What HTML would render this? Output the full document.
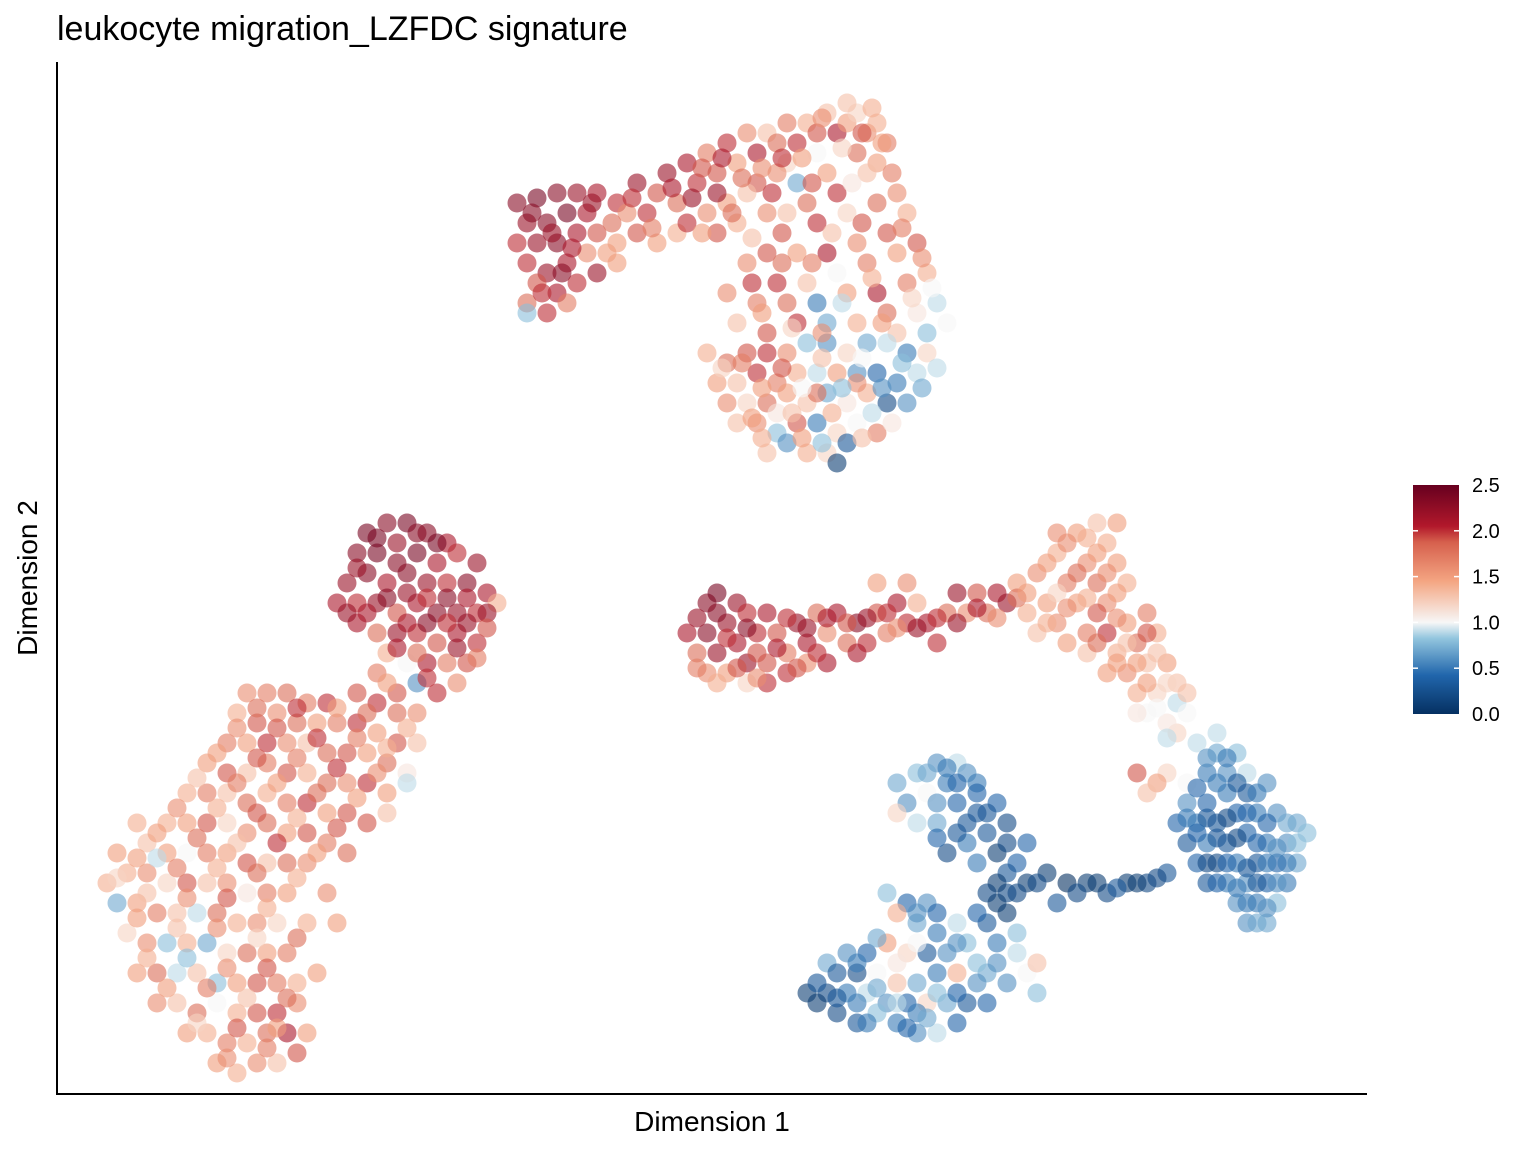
<!DOCTYPE html>
<html><head><meta charset="utf-8"><style>
html,body{margin:0;padding:0;background:#fff;}
svg{display:block;font-family:"Liberation Sans",Arial,sans-serif;}
</style></head><body>
<svg id="chart" width="1536" height="1152" viewBox="0 0 1536 1152" xmlns="http://www.w3.org/2000/svg">
<defs>
<linearGradient id="rdbu" x1="0" y1="1" x2="0" y2="0">
<stop offset="0" stop-color="#053061"/><stop offset="0.17" stop-color="#2166ac"/><stop offset="0.33" stop-color="#92c5de"/><stop offset="0.4" stop-color="#f7f7f7"/><stop offset="0.58" stop-color="#f4a582"/><stop offset="0.75" stop-color="#d6604d"/><stop offset="0.82" stop-color="#b2182b"/><stop offset="1" stop-color="#67001f"/>
</linearGradient>
</defs>
<text x="57" y="40" font-size="34" fill="#000">leukocyte migration_LZFDC signature</text>
<g id="points"></g>
<line x1="57" y1="62" x2="57" y2="1094" stroke="#000" stroke-width="2"/>
<line x1="56" y1="1094" x2="1367" y2="1094" stroke="#000" stroke-width="2"/>
<text x="712" y="1131" font-size="28" text-anchor="middle">Dimension 1</text>
<text x="37" y="578" font-size="28" text-anchor="middle" transform="rotate(-90 37 578)">Dimension 2</text>
<g>
<rect x="1413" y="485" width="46" height="229" fill="url(#rdbu)"/>
<g id="legend-ticks"></g>
</g>
</svg>
<script>
const xDomain=[0,131], yDomain=[0,103.1];
const legendTicks=[0,0.5,1.0,1.5,2.0,2.5];
const legendLabels=["0.0","0.5","1.0","1.5","2.0","2.5"];
const colorDomain=[0,2.5];
const pts=[
[46,89,2.3],[48,89.5,2.4],[50,90,2.3],[52,90,2.2],[47,87,2.2],[49,87,2.3],[51,88,2.4],[53,88,2.1],[46,85,2.0],[48,85,2.2],[50,85,2.3],[52,86,2.1],[54,86,1.9],[47,83,2.0],[49,82,2.2],[51,83,2.1],[53,84,1.6],[55,84,1.5],[48,81,1.9],[50,80,2.1],[52,81,2.0],[47,79,1.8],[49,78,2.0],[51,79,1.7],[54,82,2.2],[56,83,1.5],[47,78,0.8],
[54,90,2.1],[56,89,2.0],[58,91,2.2],[60,90,1.9],[57,88,1.6],[59,88,2.0],[61,92,2.2],[62,89,1.8],[63,93,2.1],[64,91,2.0],[65,94,1.7],[66,92,1.9],[67,95,2.0],[68,93,1.5],[69,96,1.6],[70,94,2.1],[71,96,1.3],[72,95,1.8],[73,97,1.7],[74,95,2.0],[75,97,1.4],[76,96,1.9],[77,98,1.3],[78,96,2.1],[79,97,1.5],[80,98,1.2],[81,96,1.6],[82,97,1.4],[79,99,1.3],[76,94,1.0],[73,93,1.2],[70,91,1.9],[67,89,1.5],[65,88,1.6],[62,86,1.4],[60,85,1.5],[58,86,1.9],[56,85,1.5],[63,87,2.0],[66,90,2.2],[69,90,1.3],[72,92,1.6],[74,91,0.7],[77,92,1.5],[80,94,1.8],[82,93,1.5],[83,95,1.7],[81,92,1.3],[78,90,2.0],[75,89,1.8],[71,88,1.6],[68,87,1.4],[66,86,1.9],[73,88,1.3],[76,87,2.0],[79,88,1.2],[82,89,1.8],[84,90,1.6],[85,88,1.4],[83,86,1.9],[80,85,1.6],[77,84,2.1],[74,84,1.5],[71,84,1.9],[69,83,1.6],[72,81,2.0],[75,81,1.3],[78,82,1.0],[81,83,1.7],[84,84,1.5],[86,85,1.9],[87,82,1.4],[85,81,1.7],[82,80,2.1],[79,80,1.5],[76,79,0.5],[73,79,1.8],[70,79,1.7],[67,80,1.6],[68,77,1.3],[71,76,1.9],[74,77,2.0],[77,77,0.7],[80,77,1.4],[83,78,1.8],[86,78,1.1],[88,79,0.9],[89,77,1.0],[87,76,0.8],[84,76,1.3],
[65,74,1.4],[67,73,1.8],[69,74,1.9],[71,74,2.0],[73,74,1.6],[75,75,0.8],[77,75,0.6],[79,74,1.2],[81,75,0.7],[83,75,0.9],[85,74,0.5],[87,74,1.2],[66,71,1.5],[68,71,1.3],[70,72,2.0],[72,71,1.7],[74,72,1.4],[76,72,0.9],[78,72,1.5],[80,72,0.6],[82,72,0.4],[84,71,0.5],[86,72,0.9],[67,69,1.6],[69,69,1.2],[71,69,1.8],[73,70,1.5],[75,69,1.3],[77,70,0.7],[79,69,1.1],[81,70,1.4],[83,69,0.2],[85,69,0.6],[68,67,1.3],[70,67,1.6],[72,66,0.8],[74,67,1.9],[76,67,0.5],[78,66,1.2],[80,67,1.0],[82,66,1.7],[71,64,1.3],[73,65,0.6],[75,64,1.4],[77,64,1.2],[79,65,0.3],[78,63,0.1],[72,68,1.1],[76,70,1.8],[80,71,1.6],
[31,56,2.4],[33,57,2.3],[35,57,2.4],[37,56,2.3],[39,55,2.1],[30,54,2.3],[32,54,2.4],[34,55,2.2],[36,54,2.4],[38,53,2.1],[40,54,2.0],[42,53,2.2],[29,51,2.2],[31,52,2.3],[33,51,2.1],[35,52,2.3],[37,51,2.2],[39,51,2.0],[41,51,2.3],[43,50,2.1],[28,49,2.1],[30,49,2.0],[32,49,2.2],[34,48,1.9],[36,49,2.1],[38,48,2.3],[40,48,2.2],[42,48,2.0],[44,49,1.4],[30,47,2.1],[32,46,1.8],[34,46,2.2],[36,46,2.0],[38,45,1.9],[40,46,2.1],[42,45,2.0],[33,44,1.4],[35,43,1.0],[37,43,2.1],[39,43,1.7],[41,43,1.9],[36,41,0.6],[32,42,1.7],[38,40,2.0],[34,40,1.9],
[19,40,1.6],[21,40,1.7],[23,40,1.8],[25,39,1.7],[27,39,2.0],[30,40,1.9],[32,39,2.0],[34,38,1.8],[36,38,1.6],[18,38,1.4],[20,37,1.9],[22,38,1.6],[24,37,1.8],[26,37,1.5],[28,37,1.7],[30,37,2.0],[32,36,1.5],[34,35,1.9],[36,35,1.3],[17,35,1.7],[19,35,1.5],[21,35,2.0],[23,35,1.6],[25,35,1.3],[27,34,1.8],[29,34,1.9],[31,34,1.5],[33,33,1.8],[35,32,1.1],[15,33,1.5],[17,32,1.9],[19,32,1.3],[21,33,1.7],[23,32,1.9],[25,32,1.4],[27,31,1.8],[29,31,1.6],[31,31,2.0],[33,30,1.5],[13,30,1.4],[15,30,1.7],[17,30,1.3],[19,29,1.8],[21,30,1.4],[23,29,1.7],[25,29,2.0],[27,28,1.5],[29,28,1.9],[11,27,1.4],[13,27,1.5],[15,27,1.9],[17,27,1.2],[19,26,1.6],[21,27,1.8],[23,26,1.5],[25,26,1.9],[27,25,1.7],[9,25,1.3],[11,24,1.5],[13,24,1.0],[15,24,1.7],[17,24,1.5],[19,23,1.9],[21,23,1.3],[23,23,1.8],[25,23,1.6],[7,22,1.4],[9,22,1.6],[11,21,1.2],[13,21,1.9],[15,21,1.3],[17,21,1.6],[19,20,1.1],[21,20,1.7],[23,20,1.5],[6,19,0.7],[8,19,1.5],[10,18,1.7],[12,18,1.3],[14,18,0.9],[16,18,1.8],[18,17,1.4],[20,17,1.6],[22,17,1.2],[7,16,1.2],[9,15,1.6],[11,15,0.8],[13,15,1.4],[15,15,0.7],[17,14,1.2],[19,14,1.8],[21,14,1.5],[23,14,1.7],[8,12,1.5],[10,12,1.8],[12,12,0.9],[14,12,1.3],[16,11,0.8],[18,11,1.5],[20,11,1.9],[22,11,1.7],[24,11,1.4],[10,9,1.6],[12,9,1.3],[14,8,1.8],[16,9,1.0],[18,8,1.4],[20,8,1.9],[22,8,2.0],[24,9,1.6],[26,12,1.5],[13,6,1.5],[15,6,1.4],[17,5,1.7],[19,5,1.4],[21,6,1.8],[23,6,2.1],[25,6,1.5],[16,3,1.5],[18,2,1.4],[20,3,1.6],[22,3,1.3],[24,4,1.9],[8,27,1.4],[6,24,1.5],[27,20,1.6],[29,24,1.8],[31,27,1.9],[33,28,1.3],[35,31,0.9],[28,17,1.5],[25,17,1.4],[5,21,1.4],
[65,49,2.3],[66,50,2.4],[68,49,2.2],[63,46,2.1],[65,46,2.3],[67,47,2.2],[69,48,2.0],[71,48,2.1],[64,44,1.8],[66,44,2.2],[68,45,2.1],[70,46,2.0],[72,46,1.9],[74,47,2.2],[65,42,1.6],[67,42,1.5],[69,43,2.2],[71,43,1.9],[73,44,1.7],[75,45,2.1],[77,46,1.6],[66,41,1.4],[69,41,1.2],[71,41,2.0],[76,48,1.8],[78,48,2.1],[80,47,2.3],[82,48,1.9],[84,49,2.1],[79,45,1.8],[81,45,2.0],[83,46,1.7],[85,47,2.0],[86,49,1.4],[87,47,2.1],[89,48,1.8],[90,50,2.2],[92,50,1.9],[94,50,2.1],[88,45,2.0],[91,48,1.6],[93,48,1.8],[95,49,2.2],[73,42,2.0],[75,43,1.6],[77,43,2.1],[82,51,1.5],[85,51,1.6],
[96,51,1.5],[98,52,1.6],[100,54,1.4],[102,56,1.5],[104,57,1.3],[105,55,1.4],[103,53,1.6],[101,51,1.7],[99,49,1.5],[97,48,1.4],[98,46,1.3],[100,47,1.6],[102,49,1.5],[104,51,1.8],[106,53,1.5],[107,51,1.4],[105,49,1.6],[103,46,1.7],[101,45,1.5],[103,44,1.3],[105,46,2.0],[107,47,1.5],[109,48,1.7],[106,44,1.4],[108,45,1.8],[110,46,1.4],[105,42,1.5],[107,42,1.6],[109,43,1.3],[111,43,1.5],[108,40,1.4],[110,40,1.2],[112,41,1.3],[109,38,1.0],[112,39,0.9],[100,56,1.6],[106,57,1.5],[104,48,1.9],[100,50,1.2],[112,36,1.2],[113,40,1.3],[111,37,1.1],[113,38,1.0],
[114,35,0.9],[116,34,0.7],[118,34,0.8],[115,32,0.5],[117,32,0.6],[119,32,0.9],[113,31,1.0],[113,29,0.6],[115,29,0.4],[117,30,0.5],[119,30,0.3],[121,31,0.6],[112,27,0.4],[114,27,0.5],[116,27,0.3],[118,28,0.4],[120,28,0.5],[122,28,0.6],[124,27,0.7],[113,25,0.3],[115,25,0.5],[117,25,0.3],[119,26,0.4],[121,25,0.5],[123,25,0.6],[125,26,0.8],[114,23,0.4],[116,23,0.2],[118,23,0.5],[120,23,0.3],[122,23,0.4],[124,23,0.7],[115,21,0.3],[117,21,0.5],[119,21,0.6],[121,21,0.4],[123,21,0.5],[118,19,0.6],[120,19,0.5],[122,19,0.8],[119,17,0.6],[121,17,0.7],[111,32,1.2],[108,32,1.9],[110,31,1.5],[109,30,1.3],[116,36,0.9],
[111,22,0.3],[109,21,0.2],[107,21,0.1],[105,20,0.2],[103,21,0.1],[101,21,0.0],[99,22,0.1],[97,21,0.1],[95,20,0.2],[100,19,0.3],[96,23,0.4],
[94,29,0.4],[95,27,0.2],[93,26,0.3],[94,24,0.1],[95,22,0.3],[93,20,0.2],[95,18,0.1],[93,17,0.3],[94,15,0.5],[96,16,0.8],[92,23,0.5],[97,25,0.4],[96,14,0.9],[93,12,0.7],[95,11,0.6],[97,12,1.0],[98,13,1.3],[98,10,0.8],
[84,31,0.7],[86,32,0.8],[88,33,0.6],[90,33,0.9],[91,32,0.6],[89,31,0.5],[92,31,0.5],[87,30,1.0],[85,29,0.6],[90,29,0.4],[91,27,0.3],[88,27,0.7],[86,27,0.9],[91,25,0.5],[89,24,0.2],[84,28,1.2],[92,28,0.3],
[83,20,0.8],[85,19,0.4],[87,19,0.6],[84,18,1.4],[86,17,0.7],[88,16,0.5],[90,17,0.9],[91,15,0.8],[89,14,0.6],[87,14,0.3],[85,14,1.2],[83,15,1.5],[81,14,0.4],[79,14,0.6],[77,13,0.7],[80,12,0.2],[82,12,1.0],[84,11,1.3],[86,11,0.7],[88,12,0.5],[90,12,1.4],[92,13,0.8],[75,10,0.1],[77,10,0.2],[79,10,0.5],[81,10,0.9],[83,9,0.6],[85,9,0.4],[87,9,1.2],[89,9,0.7],[91,9,0.3],[93,9,0.4],[78,8,0.2],[80,7,0.3],[82,8,0.8],[84,7,0.5],[86,6,0.6],[88,6,0.9],[90,7,0.4],[76,11,0.3],[92,18,0.4],
[47.5,88,2.3],[49.5,86,2.2],[51.5,84.5,2.1],[48.5,80,2.0],[50.5,82,2.3],[53.5,89,2.2],[55.5,87,1.8],[57.5,89.5,2.0],[59.5,86.5,1.7],[61.5,90.5,2.1],[63.5,89.5,2.2],[64.5,92.5,1.9],[66.5,93.5,2.1],[68.5,91.5,1.8],[70.5,92.5,1.6],[72.5,93.5,2.0],[74.5,93.5,1.5],[76.5,97.5,1.6],[78.5,94.5,1.2],[80.5,96,1.9],[82.5,95,1.5],[81.5,98.5,1.4],[83.5,92,1.7],[79.5,91,1.1],[75.5,91,1.9],[71.5,90,2.0],[67.5,88,1.8],[64.5,86,1.5],[69.5,85.5,1.3],[72.5,86,1.9],[77.5,86,1.3],[80.5,87,1.9],[84.5,86.5,1.7],[86.5,83.5,1.6],[81.5,81.5,1.4],[78.5,79,0.9],[75.5,83,1.7],[72.5,83,1.8],[69.5,81,2.0],[85.5,79.5,1.2],[87.5,80.5,1.0],[82.5,77,1.5],[76.5,76,1.6],[73.5,76.5,1.2],[70.5,78,1.5],
[66.5,72.5,1.2],[68.5,73,1.7],[70.5,70.5,1.5],[72.5,72.5,1.9],[74.5,70.5,1.0],[76.5,73.5,1.3],[78.5,70.5,0.8],[80.5,73.5,1.0],[82.5,70.5,0.6],[84.5,73,0.8],[86.5,70.5,0.7],[69.5,67.5,1.5],[73.5,68,1.3],[77.5,68,1.4],[81.5,68,0.9],[83.5,67,1.1],[74.5,65.5,1.5],[76.5,65,0.8],[80.5,65.5,1.3],[70.5,65.5,1.4],[88,72.5,0.9],
[32,55.5,2.4],[34,53,2.3],[36,56,2.3],[38,55,2.4],[30,52.5,2.2],[33,49.5,2.3],[35,50,2.2],[37,49.5,2.0],[39,49.5,2.3],[41,49.5,2.1],[43,48,2.2],[31,48,2.1],[35,47,2.1],[37,47,2.3],[39,47,2.0],[41,47,2.2],[43,46.5,1.9],[34,44.5,2.1],[36,44,1.8],[40,44.5,2.2],[42,43.5,1.7],[37,41.5,2.0],[33,41,1.5],[29,48,2.2],[40,41,1.6],
[20,38.5,1.8],[24,38.5,2.0],[28,38.5,1.5],[31,38,1.8],[35,36.5,1.4],[18,36.5,1.6],[22,36.5,1.9],[26,35.5,2.0],[30,35.5,1.7],[33,34.5,1.4],[16,34,1.5],[20,33.5,1.9],[24,33.5,1.7],[28,32.5,2.0],[32,32,1.6],[14,31.5,1.3],[18,31,1.7],[22,31,1.5],[26,30,1.8],[30,29.5,1.5],[12,28.5,1.6],[16,28.5,1.4],[20,28,1.9],[24,27.5,1.4],[28,26.5,1.9],[10,26,1.5],[14,25.5,1.8],[18,25,1.3],[22,25,2.0],[26,24,1.5],[8,23.5,1.5],[12,22.5,1.7],[16,22.5,1.4],[20,22,1.8],[24,21.5,1.4],[9,20,1.3],[13,19.5,1.6],[17,19.5,1.9],[21,18.5,1.4],[8,17.5,1.5],[12,16.5,1.3],[16,16.5,1.6],[20,15.5,1.2],[24,15.5,1.8],[9,13.5,1.4],[13,13.5,0.8],[17,12.5,1.6],[21,12.5,1.9],[11,10.5,1.5],[15,10.5,1.7],[19,9.5,1.3],[23,9.5,1.8],[14,7,1.2],[18,6.5,1.9],[22,6.5,1.5],[17,3.5,1.6],[21,4.5,1.7],[6,21.5,1.2],[10,23.5,0.9],
[64,47.5,2.2],[66,48,2.3],[67,45.5,2.0],[69,46.5,2.3],[70,44,1.9],[72,44.5,2.1],[64,42.5,1.7],[68,42.5,1.9],[70,41.5,1.6],[73,47.5,2.0],[75,46.5,2.2],[77,47.5,2.1],[79,47,1.9],[81,47.5,2.2],[83,48,2.0],[80,44,2.1],[84,46.5,1.6],[86,46.5,2.2],[88,47.5,2.0],[90,47,2.2],[92,48.5,2.1],[94,47.5,1.6],[74,42.5,1.9],[76,44,2.0],[96,49.5,1.8],[97,50,1.5],[99,53,1.5],[101,55,1.6],[103,55.5,1.4],[104,54,1.5],[102,52,1.8],[99,47,1.4],[101,48.5,1.6],[103,49.5,1.4],[105,52,1.6],[106,50,1.5],[104,45,1.8],[106,47.5,1.6],[107,45,1.3],[109,46,1.9],[106,43,1.5],[108,43,1.5],[110,44,1.3],[109,41,1.5],[111,41,1.2],[108,38,1.1],[110,38.5,1.0],[111,35.5,0.9],
[115,33.5,0.6],[117,33.5,0.5],[114,30.5,0.4],[116,31,0.5],[118,31,0.3],[120,30,0.5],[113,27.5,0.5],[115,27.5,0.3],[117,27.5,0.2],[119,28,0.4],[121,27,0.4],[123,27,0.7],[114,26,0.4],[116,25.5,0.3],[118,25.5,0.2],[120,25,0.4],[122,24.5,0.6],[124,25,0.8],[115,23,0.2],[117,23,0.4],[119,22.5,0.3],[121,23,0.5],[123,23,0.5],[116,21,0.4],[118,20.5,0.5],[120,21,0.3],[122,21,0.6],[119,19,0.5],[121,18.5,0.6],[120,17,0.7],[110,21.5,0.2],[108,21,0.1],[106,20.5,0.3],[104,21,0.1],[102,20,0.2],[98,21,0.2],[94,21,0.1],[95,25,0.2],[93,28,0.3],[94,19,0.1],[96,20,0.2],[94,13,0.6],[87,32,0.7],[89,32.5,0.5],[88,29,0.6],[90,31,0.4],[92,30,0.4],[90,26,0.3],[88,25.5,0.4],[86,18,0.6],[88,18,0.4],[90,15,0.6],[86,15,1.0],[84,13,1.1],[82,15.5,0.7],[80,13,0.5],[78,12,0.3],[76,9,0.1],[78,9.5,0.3],[80,9,0.5],[82,10.5,0.7],[84,9,0.9],[86,8,0.5],[88,10,0.8],[90,10,0.4],[92,11,0.6],[85,6.5,0.4],[87,7.5,0.7],[81,7,0.5]
];
const NS="http://www.w3.org/2000/svg";
function sx(x){return 57+(x-xDomain[0])/(xDomain[1]-xDomain[0])*1310;}
function sy(y){return 1093-(y-yDomain[0])/(yDomain[1]-yDomain[0])*1031;}
function ly(v){return 714-(v-colorDomain[0])/(colorDomain[1]-colorDomain[0])*229;}
const stops=[[0,[5,48,97]],[0.42,[33,102,172]],[0.83,[146,197,222]],[1.0,[247,247,247]],[1.45,[244,165,130]],[1.87,[214,96,77]],[2.05,[178,24,43]],[2.5,[103,0,31]]];
function color(v){
  for(let i=1;i<stops.length;i++){
    if(v<=stops[i][0]){const a=stops[i-1],b=stops[i];const t=(v-a[0])/(b[0]-a[0]);
      const c=a[1].map((q,k)=>Math.round(q+(b[1][k]-q)*t));return `rgb(${c[0]},${c[1]},${c[2]})`;}
  }
  return "rgb(103,0,31)";
}
const g=document.getElementById('points');
pts.forEach(p=>{
  const c=document.createElementNS(NS,'circle');
  c.setAttribute('cx',sx(p[0]));c.setAttribute('cy',sy(p[1]));c.setAttribute('r',9.5);
  c.setAttribute('fill',color(p[2]));c.setAttribute('fill-opacity','0.6');
  
  
  g.appendChild(c);
});
const lt=document.getElementById('legend-ticks');
legendTicks.forEach((v,i)=>{
  const y=ly(v);
  if(v>0&&v<2.5){
    [[1413,1418],[1454,1459]].forEach(s=>{
      const l=document.createElementNS(NS,'line');
      l.setAttribute('x1',s[0]);l.setAttribute('x2',s[1]);l.setAttribute('y1',y);l.setAttribute('y2',y);
      l.setAttribute('stroke','#fff');l.setAttribute('stroke-width','1.5');
      
      
      lt.appendChild(l);
    });
  }
  const t=document.createElementNS(NS,'text');
  t.setAttribute('x',1472);t.setAttribute('y',y+7);t.setAttribute('font-size','20');
  t.textContent=legendLabels[i];
  
  
  lt.appendChild(t);
});
</script>
</body></html>
